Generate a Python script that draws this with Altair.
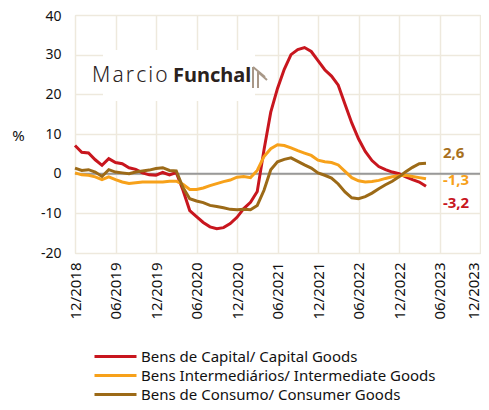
import altair as alt
import pandas as pd

# month index 0 = 12/2018 ... 52 = 04/2023
months = list(range(53))

capital = [7.1, 5.4, 5.2, 3.5, 2.1, 3.8, 2.8, 2.5, 1.5, 1.1, 0.2, -0.3, -0.4, 0.3, -0.3, 0.3,
           -4.2, -9.3, -10.8, -12.3, -13.4, -13.9, -13.6, -12.6, -11.0, -8.8, -7.2, -4.5,
           6.0, 15.5, 21.5, 26.3, 30.0, 31.3, 31.8, 30.8, 28.5, 26.2, 24.6, 22.3, 17.5,
           12.8, 8.8, 5.6, 3.3, 1.8, 1.0, 0.4, 0.0, -0.8, -1.5, -2.1, -3.2]

intermediate = [0.2, -0.3, -0.4, -0.8, -1.5, -0.8, -1.5, -2.1, -2.5, -2.3, -2.1, -2.1, -2.1, -2.1,
                -1.9, -1.9, -2.7, -4.0, -4.0, -3.6, -3.0, -2.5, -2.0, -1.6, -0.9, -0.7, -1.0,
                0.8, 4.3, 6.3, 7.3, 7.1, 6.5, 5.8, 5.2, 4.6, 3.4, 3.0, 2.8, 2.2, 0.6, -1.0,
                -1.8, -2.1, -2.0, -1.7, -1.2, -0.8, -0.5, -0.4, -0.7, -1.0, -1.3]

consumer = [1.4, 0.8, 1.0, 0.4, -0.7, 1.0, 0.4, 0.2, 0.0, 0.4, 0.7, 0.9, 1.3, 1.5, 0.8, 0.7,
            -3.5, -6.3, -6.9, -7.3, -8.0, -8.3, -8.6, -9.0, -9.1, -9.0, -9.1, -8.0, -4.2,
            1.0, 3.0, 3.6, 4.0, 3.1, 2.2, 1.4, 0.2, -0.4, -1.1, -2.6, -4.6, -6.1, -6.3,
            -5.8, -4.9, -3.8, -2.8, -1.9, -0.8, 0.5, 1.6, 2.5, 2.6]

series_names = ["Bens de Capital/ Capital Goods",
                "Bens Intermediários/ Intermediate Goods",
                "Bens de Consumo/ Consumer Goods"]
series_colors = ["#c8161e", "#f7a11a", "#9c6a17"]

tick_months = list(range(0, 61, 6))
tick_labels = ["12/2018", "06/2019", "12/2019", "06/2020", "12/2020", "06/2021",
               "12/2021", "06/2022", "12/2022", "06/2023", "12/2023"]
y_ticks = [-20, -10, 0, 10, 20, 30, 40]

end_labels = ["2,6", "-1,3", "-3,2"]
end_label_colors = ["#a8711e", "#f7a11a", "#c8161e"]
end_label_x = [54.5, 54.5, 54.5]
end_label_y = [5.1, -1.6, -7.5]

rows = []
for name, vals in zip(series_names, [capital, intermediate, consumer]):
    for m, v in zip(months, vals):
        rows.append({"m": m, "v": v, "s": name})
df = pd.DataFrame(rows)

lab_df = pd.DataFrame({"t": end_labels, "c": end_label_colors, "x": end_label_x, "y": end_label_y})

grid_col = "#eee9dd"
FONT = "Noto Sans"

label_arr = "[" + ",".join("'%s'" % t for t in tick_labels) + "]"

xscale = alt.Scale(domain=[0, 60], nice=False, zero=False)
yscale = alt.Scale(domain=[-20, 40], nice=False)

xaxis = alt.Axis(values=tick_months, labelExpr=label_arr + "[round(datum.value/6)]",
                 labelAngle=-90, labelFontSize=15, labelPadding=9, ticks=False,
                 domain=False, grid=True, gridColor=grid_col, gridWidth=1.5,
                 labelOverlap=False, labelBound=False,
                 labelOffset=alt.ConditionalAxisNumber(
                     condition={"test": "datum.value >= 60", "value": -7}, value=0),
                 labelColor="#111111", labelFont=FONT, title=None)
yaxis = alt.Axis(values=y_ticks, labelExpr="toString(datum.value)",
                 labelFontSize=14, labelPadding=14, ticks=False, domain=False,
                 labelOverlap=False, labelBound=False,
                 labelOffset=alt.ConditionalAxisNumber(
                     condition={"test": "datum.value >= 40", "value": 1}, value=0),
                 grid=True, gridColor=grid_col, gridWidth=1.5, labelColor="#111111",
                 labelFont=FONT, title="%", titleAngle=0, titleX=-57, titleY=120,
                 titleAlign="center", titleBaseline="middle", titleFontSize=15,
                 titleFontWeight="normal", titleFont=FONT, titleColor="#111111")

lines = alt.Chart(df).mark_line(strokeWidth=3).encode(
    x=alt.X("m:Q", scale=xscale, axis=xaxis),
    y=alt.Y("v:Q", scale=yscale, axis=yaxis),
    color=alt.Color("s:N", scale=alt.Scale(domain=series_names, range=series_colors),
                    legend=alt.Legend(orient="none", direction="vertical", legendX=32, legendY=333,
                                      title=None,
                                      symbolType="M-3,0L3,0", symbolSize=196, symbolStrokeWidth=3,
                                      labelFontSize=15, labelFont=FONT, labelColor="#111111",
                                      labelLimit=400, labelOffset=17, rowPadding=2, padding=0)),
    order="m:Q",
)

logo_box = alt.Chart(pd.DataFrame({"a": [0]})).mark_rect(color="white").encode(
    x=alt.value(28), x2=alt.value(180), y=alt.value(35), y2=alt.value(86))

logo1 = alt.Chart(pd.DataFrame({"t": ["M\u200aa\u200ar\u200ac\u200ai\u200ao"]})).mark_text(
    align="left", baseline="alphabetic", fontSize=21, fontWeight=300, font=FONT, color="#2b221d"
).encode(text="t:N", x=alt.value(17), y=alt.value(67))

logo2 = alt.Chart(pd.DataFrame({"t": ["Funchal"]})).mark_text(
    align="left", baseline="alphabetic", fontSize=20, fontWeight="bold", font=FONT, color="#2b221d"
).encode(text="t:N", x=alt.value(98), y=alt.value(67))

icon_df = pd.DataFrame({"x1": [178, 183, 178, 183], "y1": [52, 57, 52, 57],
                        "x2": [178, 183, 190, 192], "y2": [73, 73, 62, 65]})
icon = alt.Chart(icon_df).mark_rule(color="#a89888", strokeWidth=2).encode(
    x=alt.X("x1:Q", scale=None), x2="x2:Q", y=alt.Y("y1:Q", scale=None), y2="y2:Q")

zero = alt.Chart(pd.DataFrame({"v": [0]})).mark_rule(color="#999999", strokeWidth=2).encode(
    y=alt.Y("v:Q", scale=yscale, axis=yaxis))

labels = alt.Chart(lab_df).mark_text(align="left", baseline="middle", fontSize=15,
                                     fontWeight="bold", font=FONT).encode(
    x=alt.X("x:Q", scale=xscale, axis=xaxis),
    y=alt.Y("y:Q", scale=yscale, axis=yaxis),
    text="t:N",
    color=alt.Color("c:N", scale=None),
)

chart = alt.layer(logo_box, zero, lines, labels, logo1, logo2, icon).properties(
    width=405, height=238,
    autosize=alt.AutoSizeParams(type="none"),
    padding={"left": 67, "top": 7, "right": 1, "bottom": 149},
).configure_view(stroke=grid_col, strokeWidth=1.5).configure_axis(
    labelOverlap=False).configure(background="white")

chart.save("out.html", embed_options={"renderer": "svg", "actions": False})
